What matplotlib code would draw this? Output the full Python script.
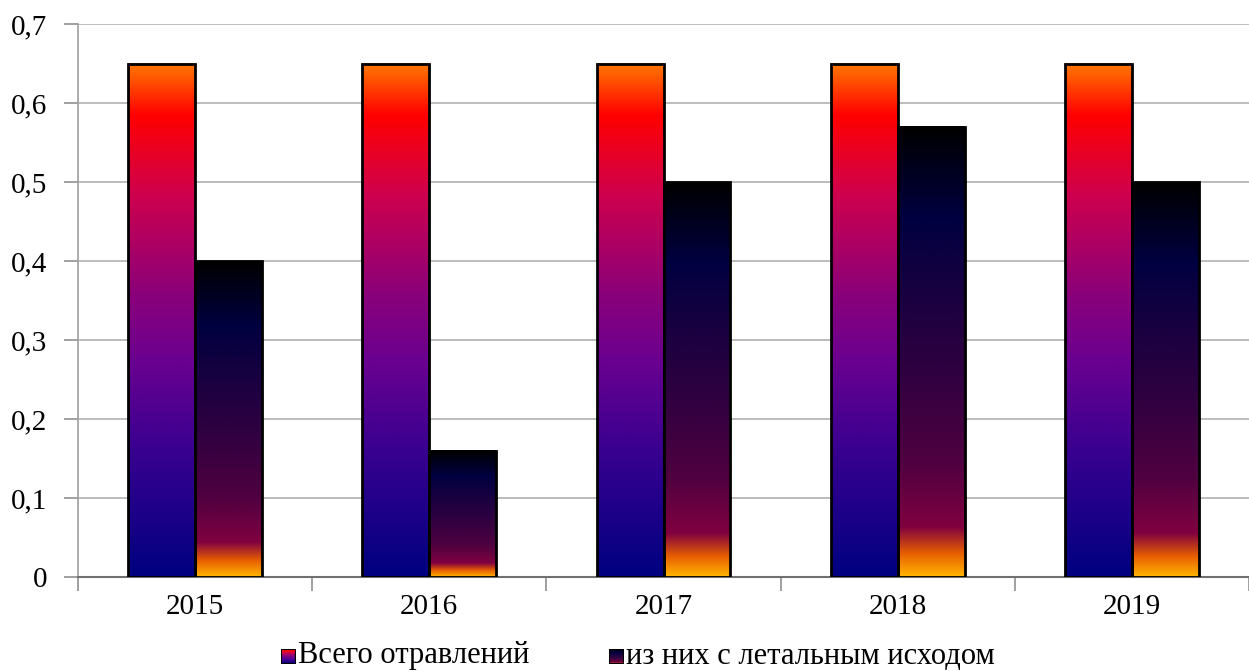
import numpy as np
import matplotlib
matplotlib.use('Agg')
import matplotlib.pyplot as plt
from matplotlib.colors import LinearSegmentedColormap
from matplotlib.patches import Rectangle

years = ['2015', '2016', '2017', '2018', '2019']
total = [0.65, 0.65, 0.65, 0.65, 0.65]
fatal = [0.40, 0.16, 0.50, 0.57, 0.50]
labels = ['Всего отравлений', 'из них с летальным исходом']

# gradients, listed bottom -> top
cmap_total = LinearSegmentedColormap.from_list('total', [
    (0.0, '#000080'), (0.25, '#3a0090'), (0.42, '#6a0090'), (0.55, '#8a007a'),
    (0.75, '#d0004c'), (0.9, '#ff0000'), (1.0, '#ff7800')])
cmap_fatal = LinearSegmentedColormap.from_list('fatal', [
    (0.0, '#ffb400'), (0.05, '#e86000'), (0.11, '#800040'), (0.25, '#500040'),
    (0.45, '#300040'), (0.62, '#1a0040'), (0.8, '#000040'), (1.0, '#000000')])

plt.rcParams['font.family'] = ['Liberation Serif', 'DejaVu Serif']

fig = plt.figure(figsize=(12.49, 6.71), dpi=100)
ax = fig.add_axes([78 / 1249, 1 - 577 / 671, 1 - 78 / 1249, (577 - 24) / 671])

x = np.arange(len(years))
w = 0.286
grad = np.linspace(0, 1, 256).reshape(-1, 1)

def grad_bars(xs, vals, cmap):
    bars = ax.bar(xs, vals, w, facecolor='none', edgecolor='black', linewidth=2, zorder=4)
    for b in bars:
        x0, h = b.get_x(), b.get_height()
        ax.imshow(grad, extent=[x0, x0 + b.get_width(), 0, h], origin='lower',
                  aspect='auto', cmap=cmap, zorder=3, interpolation='bilinear')

grad_bars(x - w / 2, total, cmap_total)
grad_bars(x + w / 2, fatal, cmap_fatal)

ax.set_xlim(-0.5, 4.467)
ax.set_ylim(0, 0.7)
ax.set_yticks(np.arange(0, 0.71, 0.1))
ax.set_yticklabels(['0' if v == 0 else f'{v:.1f}'.replace('.', ',') for v in np.arange(0, 0.71, 0.1)])
ax.yaxis.grid(True, color='#b0b0b0', linewidth=1.2, zorder=0)
ax.set_axisbelow(True)

ax.set_xticks(x)
ax.set_xticklabels(years)
ax.set_xticks(np.arange(-0.5, 5, 1), minor=True)
ax.tick_params(axis='x', which='major', length=0, pad=12, labelsize=21)
ax.tick_params(axis='x', which='minor', length=10, color='#909090', width=1.2)
ax.tick_params(axis='y', length=10, color='#909090', width=1.2, pad=12, labelsize=21)

for s in ['top', 'right']:
    ax.spines[s].set_visible(False)
ax.spines['left'].set_color('#a0a0a0')
ax.spines['left'].set_linewidth(1.2)
ax.spines['bottom'].set_color('#707070')
ax.spines['bottom'].set_linewidth(1.5)

# legend with gradient squares
def legend_item(px, cmap, text):
    lax = fig.add_axes([px / 1249, 1 - 664 / 671, 15 / 1249, 15 / 671])
    lax.imshow(grad, origin='lower', aspect='auto', cmap=cmap, extent=[0, 1, 0, 1])
    lax.add_patch(Rectangle((0, 0), 1, 1, fill=False, edgecolor='black', linewidth=1.5))
    lax.set_xticks([])
    lax.set_yticks([])
    for s in lax.spines.values():
        s.set_visible(False)
    fig.text((px + 17) / 1249, 1 - 656 / 671, text, fontsize=22, va='center', ha='left')

legend_item(281, cmap_total, labels[0])
legend_item(609, cmap_fatal, labels[1])

fig.savefig('out.png', dpi=100)
